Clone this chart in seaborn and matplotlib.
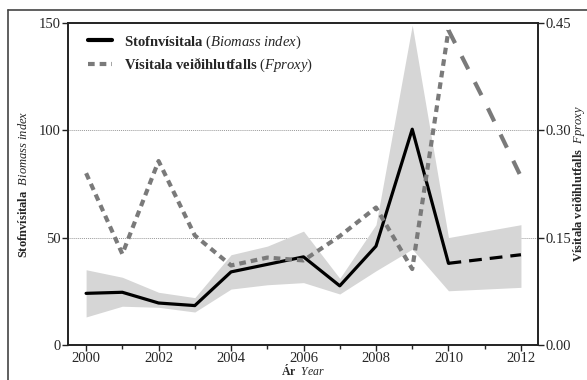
import matplotlib
matplotlib.use("Agg")
import matplotlib.pyplot as plt
import seaborn as sns
import numpy as np
from matplotlib.lines import Line2D

# gogn lesin af myndinni
years = [2000, 2001, 2002, 2003, 2004, 2005, 2006, 2007, 2008, 2009, 2010, 2011, 2012]
biomass = [24, 24.5, 19.5, 18.3, 34, 37.5, 41, 27.5, 46, 100.5, 38, 40, 42]
band_low = [13, 18, 17.5, 15.3, 26, 28, 29, 23.7, 34.5, 44.6, 25.2, 26, 26.8]
band_high = [35, 31.5, 24.5, 22, 42, 46, 53, 31, 56, 149, 50, 53, 56]
fproxy = [0.24, 0.127, 0.257, 0.153, 0.111, 0.122, 0.118, 0.152, 0.192, 0.106, 0.44, 0.34, 0.235]
split_year = 2010

sns.set_style("ticks")
plt.rcParams['font.family'] = ['Liberation Serif', 'DejaVu Serif']
plt.rcParams['mathtext.fontset'] = 'custom'
plt.rcParams['mathtext.rm'] = 'Liberation Serif'
plt.rcParams['mathtext.it'] = 'Liberation Serif:italic'
plt.rcParams['mathtext.bf'] = 'Liberation Serif:bold'

yrs = np.array(years)
old = yrs <= split_year
new = yrs >= split_year
bio = np.array(biomass)
fp = np.array(fproxy)

fig = plt.figure(figsize=(5.87, 3.8), dpi=100)
ax = fig.add_axes([0.1158, 0.0925, 0.8007, 0.847])
ax2 = ax.twinx()

for v in [50, 100]:
    ax.axhline(v, color='#999999', lw=0.7, ls=(0, (1, 1)), zorder=0)

ax.fill_between(years, band_low, band_high, color='#d6d6d6', lw=0, zorder=1)
sns.lineplot(x=yrs[old], y=bio[old], ax=ax, color='black', lw=2.3, zorder=3)
sns.lineplot(x=yrs[new], y=bio[new], ax=ax, color='black', lw=2.3,
             linestyle=(0, (4, 2.5)), zorder=3)

sns.lineplot(x=yrs[old], y=fp[old], ax=ax2, color='#7a7a7a', lw=3,
             linestyle=(0, (1.6, 1.2)))
sns.lineplot(x=yrs[new], y=fp[new], ax=ax2, color='#7a7a7a', lw=3,
             linestyle=(0, (3.5, 3.5)))

ax.set_xlim(1999.5, 2012.47)
ax.set_ylim(0, 150)
ax2.set_ylim(0, 0.45)
ax.set_xticks([2000, 2002, 2004, 2006, 2008, 2010, 2012])
ax.set_xticks(years, minor=True)
ax.set_yticks([0, 50, 100, 150])
ax2.set_yticks([0, 0.15, 0.30, 0.45])
ax2.set_yticklabels(['0.00', '0.15', '0.30', '0.45'])

for a in (ax, ax2):
    a.tick_params(labelsize=10.5, length=4, width=1, color='#222222', pad=1.5)
    a.tick_params(which='minor', length=3, width=1)
    for s in a.spines.values():
        s.set_linewidth(1.2)
        s.set_color('#222222')
    sns.despine(ax=a, top=False, right=False)
ax.tick_params(axis='x', pad=1)

ax.set_xlabel(r'$\bf{Ár}$  $\it{Year}$', fontsize=8.5, labelpad=-1)
ax.set_ylabel(r'$\bf{Stofnvísitala}$  $\it{Biomass\ index}$', fontsize=9, labelpad=6)
ax2.set_ylabel(r'$\bf{Vísitala\ veiðihlutfalls}$  $\it{Fproxy}$', fontsize=9, labelpad=-1)

handles = [Line2D([], [], color='black', lw=3),
           Line2D([], [], color='#7a7a7a', lw=3, linestyle=(0, (1.6, 1.2)))]
labels = [r'$\bf{Stofnvísitala}$ $\it{(Biomass\ index)}$',
          r'$\bf{Vísitala\ veiðihlutfalls}$ $\it{(Fproxy)}$']
ax2.legend(handles, labels, loc='upper left', frameon=False, fontsize=10.5,
           handlelength=1.7, borderaxespad=0.3, labelspacing=0.35,
           bbox_to_anchor=(0.02, 1.0))

# ytri rammi
fig.add_artist(Line2D([8 / 587, 8 / 587], [0, 1 - 10 / 380], color='#444444', lw=1.2))
fig.add_artist(Line2D([8 / 587, 1], [1 - 10 / 380, 1 - 10 / 380], color='#444444', lw=1.2))

plt.savefig('out.png', dpi=100)
